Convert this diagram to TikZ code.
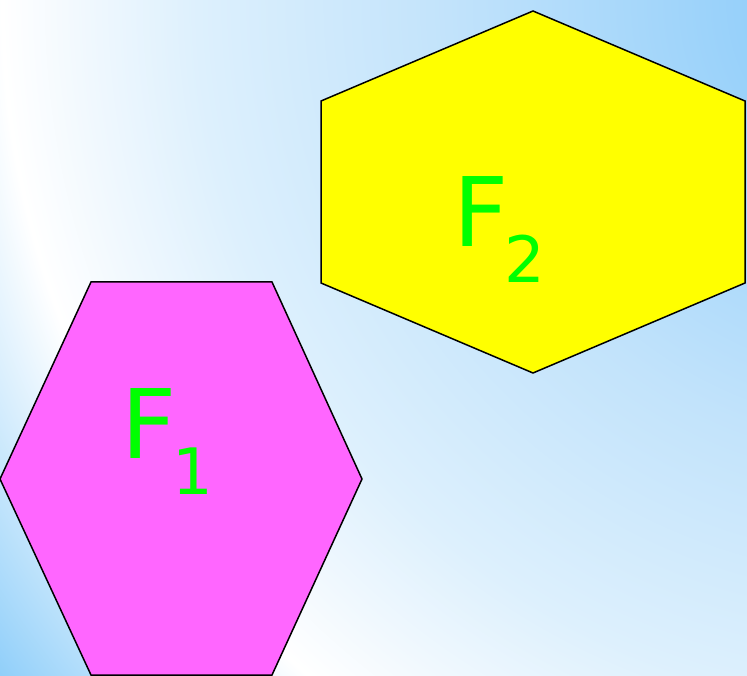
\documentclass[tikz,border=0pt]{standalone}
\usepackage{fontspec}
\setmainfont{DejaVu Sans}
\usetikzlibrary{positioning}

\definecolor{skytop}{HTML}{96D0FA}
\definecolor{skymid}{HTML}{C2E3FB}
\definecolor{skylight}{HTML}{DDF0FD}
\definecolor{skypale}{HTML}{F0F8FE}
\definecolor{skyedge}{HTML}{8CCDF9}
\definecolor{hexmagenta}{HTML}{FF66FF}
\definecolor{hexyellow}{HTML}{FFFF00}
\definecolor{labelgreen}{HTML}{00FF00}

\pgfdeclareradialshading{skyshade}{\pgfpoint{0bp}{0bp}}{%
  color(0bp)=(skytop); color(150bp)=(skytop); color(450bp)=(skymid);
  color(700bp)=(skylight); color(810bp)=(skypale); color(895bp)=(white);
  color(1130bp)=(skyedge); color(1200bp)=(skyedge)}

\begin{document}
\begin{tikzpicture}[
    x=1pt, y=-1pt,
    hexa/.style={draw=black, line width=1.5pt, line join=miter},
    sym/.style={font=\fontsize{96}{96}\selectfont, text=labelgreen,
                inner sep=0pt, anchor=base west},
    subidx/.style={font=\fontsize{64}{64}\selectfont}
]
\useasboundingbox (0,0) rectangle (747,676);

% background
\begin{scope}
  \clip (0,0) rectangle (747,676);
  \node[inner sep=0pt] (sky) at (900,0) {\pgfuseshading{skyshade}};
\end{scope}

% hexagons
\draw[hexa, fill=hexmagenta] (91,282) -- (272,282) -- (362,479)
    -- (272,675) -- (91,675) -- (0,479) -- cycle;
\draw[hexa, fill=hexyellow] (533,11) -- (745,101) -- (745,283)
    -- (533,373) -- (321,283) -- (321,101) -- cycle;

% labels
\node[sym] (f1) at (121.5,458) {F\kern-4pt\raisebox{-36pt}{\fontsize{64}{64}\selectfont 1}};
\node[sym] (f2) at (453.5,247) {F\kern-4pt\raisebox{-36pt}{\fontsize{64}{64}\selectfont 2}};
\end{tikzpicture}
\end{document}
